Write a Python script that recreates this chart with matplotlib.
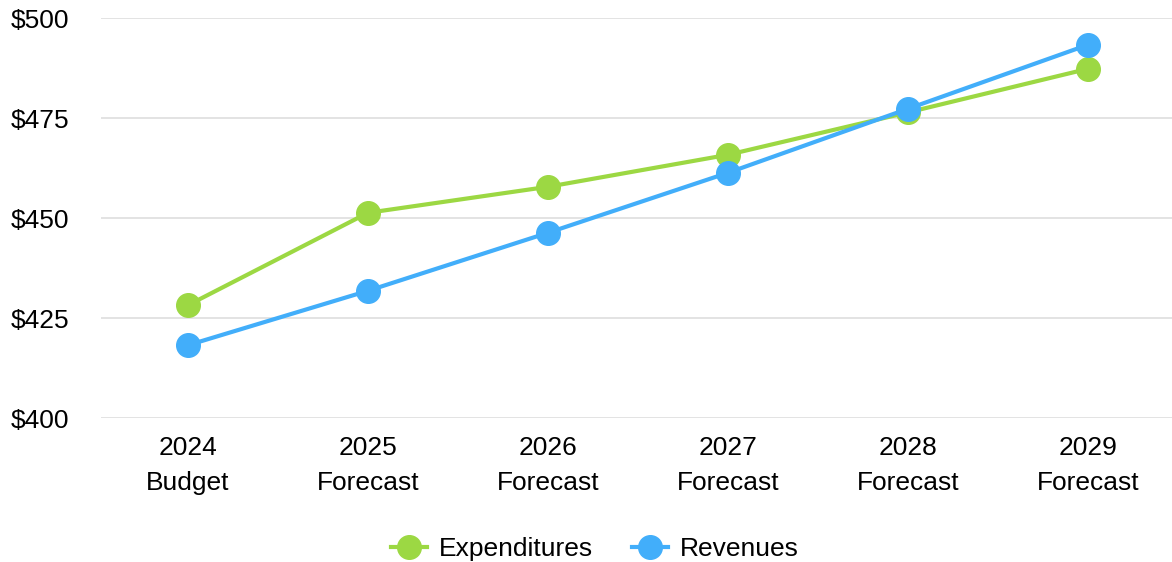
import matplotlib
matplotlib.use("Agg")
import matplotlib.pyplot as plt

categories = ["2024\nBudget", "2025\nForecast", "2026\nForecast", "2027\nForecast", "2028\nForecast", "2029\nForecast"]
expenditures = [428.2, 451.3, 457.8, 465.8, 476.4, 487.3]
revenues = [418.2, 431.8, 446.3, 461.3, 477.3, 493.3]
y_ticks = [400, 425, 450, 475, 500]
y_labels = ["$400", "$425", "$450", "$475", "$500"]

plt.rcParams['font.family'] = ['Liberation Sans', 'DejaVu Sans']

W, H = 1172, 562
fig = plt.figure(figsize=(W / 100, H / 100), dpi=100)
ax = fig.add_axes([101 / W, 1 - 418 / H, (1172 - 101) / W, 400 / H])

green = "#9cd843"
blue = "#42aefa"
x = list(range(len(categories)))
ax.plot(x, expenditures, color=green, lw=3, marker="o", ms=17, label="Expenditures", zorder=3)
ax.plot(x, revenues, color=blue, lw=3, marker="o", ms=17, label="Revenues", zorder=4)

ax.set_xlim(-0.483, 5.467)
ax.set_ylim(400, 500)
ax.set_yticks(y_ticks)
ax.set_yticklabels(y_labels)
ax.set_xticks(x)
ax.set_xticklabels(categories, linespacing=1.55)
ax.tick_params(axis="y", length=0, pad=23, labelsize=19)
ax.tick_params(axis="x", length=0, pad=13, labelsize=19)
for s in ax.spines.values():
    s.set_visible(False)
ax.grid(axis="y", color="#e0e0e0", lw=1.3)
ax.set_axisbelow(True)
for line in ax.lines:
    line.set_clip_on(False)

fig.legend(loc="center", bbox_to_anchor=(595 / W, 1 - 549 / H), ncol=2, frameon=False,
           fontsize=19, handlelength=1.35, handletextpad=0.45, columnspacing=1.5)

fig.savefig("out.png", dpi=100)
